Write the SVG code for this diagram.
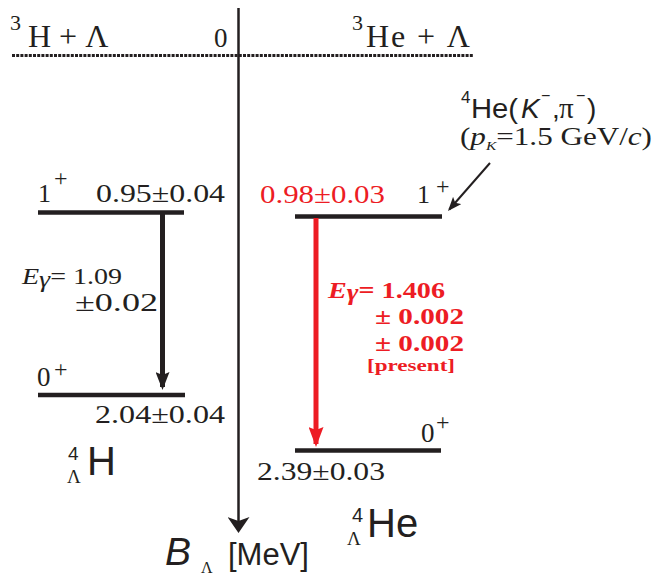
<svg xmlns="http://www.w3.org/2000/svg" width="657" height="576" viewBox="0 0 657 576">
<style>
.serif{font-family:"Liberation Serif","Times New Roman",serif;fill:#231f20}
.sans{font-family:"Liberation Sans",Arial,sans-serif;fill:#231f20}
.red{fill:#ed1c24}
.it{font-style:italic}
.b{font-weight:bold}
.lvl{stroke:#231f20;stroke-width:4.5;fill:none}
</style>
<defs>
<marker id="axHead" markerUnits="userSpaceOnUse" markerWidth="16" markerHeight="22" viewBox="0 0 16 22" refX="13" refY="11" orient="auto"><path d="M0,0 L16,11 L0,22 L4,11 Z" fill="#231f20"/></marker>
<marker id="blkHead" markerUnits="userSpaceOnUse" markerWidth="18" markerHeight="14" viewBox="0 0 18 14" refX="15" refY="7" orient="auto"><path d="M0,0 L18,7 L0,14 L3,7 Z" fill="#231f20"/></marker>
<marker id="redHead" markerUnits="userSpaceOnUse" markerWidth="20" markerHeight="15" viewBox="0 0 20 15" refX="17" refY="7.5" orient="auto"><path d="M0,0 L20,7.5 L0,15 L3,7.5 Z" fill="#ed1c24"/></marker>
<marker id="ptrHead" markerUnits="userSpaceOnUse" markerWidth="14" markerHeight="11" viewBox="0 0 14 11" refX="12" refY="5.5" orient="auto"><path d="M0,0 L14,5.5 L0,11 L3,5.5 Z" fill="#231f20"/></marker>
</defs>
<rect width="657" height="576" fill="#ffffff"/>

<g id="thresholds">
<line x1="12" y1="55.5" x2="473" y2="55.5" stroke="#231f20" stroke-width="3" stroke-dasharray="3 1.2"/>
<text class="serif" x="10" y="30" font-size="22">3</text>
<text class="serif" x="28" y="47" font-size="32">H + Λ</text>
<text class="serif" x="214" y="47" font-size="27">0</text>
<text class="serif" x="352" y="30" font-size="22">3</text>
<text class="serif" x="366" y="47" font-size="32" textLength="104">He + Λ</text>
</g>

<g id="reaction">
<text class="sans" x="461" y="103" font-size="17">4</text>
<text class="sans" x="471" y="118" font-size="28" textLength="47" lengthAdjust="spacingAndGlyphs">He(</text>
<text class="sans it" x="521" y="118" font-size="28">K</text>
<text class="sans" x="541" y="101" font-size="16">−</text>
<text class="sans" x="552" y="118" font-size="28">,</text>
<text class="serif" x="559" y="118" font-size="29">π</text>
<text class="sans" x="576" y="101" font-size="16">−</text>
<text class="sans" x="587" y="118" font-size="28">)</text>
<text class="serif" x="460" y="145" font-size="26" textLength="192" lengthAdjust="spacingAndGlyphs">(<tspan class="it">p</tspan><tspan class="it" font-size="13" dy="5">K</tspan><tspan dy="-5">=1.5 GeV/</tspan><tspan class="it">c</tspan>)</text>
</g>

<g id="H4-1plus">
<line class="lvl" x1="38" y1="212.5" x2="184" y2="212.5"/>
<text class="serif" x="38" y="202" font-size="26">1</text>
<text class="serif" x="54" y="186" font-size="24">+</text>
<text class="serif" x="96" y="202" font-size="25" textLength="129" lengthAdjust="spacingAndGlyphs">0.95±0.04</text>
</g>

<g id="H4-0plus">
<line class="lvl" x1="38" y1="395" x2="185" y2="395"/>
<text class="serif" x="37" y="386" font-size="27">0</text>
<text class="serif" x="54" y="377" font-size="24">+</text>
<text class="serif" x="95" y="423" font-size="25" textLength="130" lengthAdjust="spacingAndGlyphs">2.04±0.04</text>
</g>

<g id="H4-label">
<text class="sans" x="68" y="460" font-size="19">4</text>
<text class="serif" x="67" y="483" font-size="19">Λ</text>
<text class="sans" x="87" y="475" font-size="40">H</text>
</g>

<g id="H4-gamma">
<text class="serif" x="22" y="284" font-size="24" textLength="100" lengthAdjust="spacingAndGlyphs"><tspan class="it">E</tspan><tspan class="it" dy="3">γ</tspan><tspan dy="-3">= 1.09</tspan></text>
<text class="serif" x="75" y="311" font-size="25" textLength="83" lengthAdjust="spacingAndGlyphs">±0.02</text>
</g>

<g id="He4-1plus">
<line class="lvl" x1="295" y1="216.5" x2="442" y2="216.5"/>
<text class="serif red" x="260" y="203" font-size="25" textLength="125" lengthAdjust="spacingAndGlyphs">0.98±0.03</text>
<text class="serif" x="417" y="203" font-size="26">1</text>
<text class="serif" x="436" y="194" font-size="24">+</text>
</g>

<g id="He4-0plus">
<line class="lvl" x1="295" y1="450.5" x2="441" y2="450.5"/>
<text class="serif" x="421" y="442" font-size="27">0</text>
<text class="serif" x="436" y="430" font-size="24">+</text>
<text class="serif" x="257" y="480" font-size="25" textLength="128" lengthAdjust="spacingAndGlyphs">2.39±0.03</text>
</g>

<g id="He4-gamma">
<text class="serif red b" x="328" y="298" font-size="23" textLength="117" lengthAdjust="spacingAndGlyphs"><tspan class="it">E</tspan><tspan class="it" dy="2">γ</tspan><tspan dy="-2">= 1.406</tspan></text>
<text class="serif red b" x="375" y="324" font-size="23" textLength="89" lengthAdjust="spacingAndGlyphs">± 0.002</text>
<text class="serif red b" x="375" y="351" font-size="23" textLength="89" lengthAdjust="spacingAndGlyphs">± 0.002</text>
<text class="serif red b" x="367" y="371" font-size="17" textLength="88" lengthAdjust="spacingAndGlyphs">[present]</text>
</g>

<g id="He4-label">
<text class="sans" x="352" y="522" font-size="20">4</text>
<text class="serif" x="347" y="545" font-size="19">Λ</text>
<text class="sans" x="367" y="537" font-size="40">He</text>
</g>

<g id="axis-label">
<text class="sans it" x="165" y="565" font-size="39">B</text>
<text class="serif" x="201" y="573" font-size="16">Λ</text>
<text class="sans" x="228" y="565" font-size="31">[MeV]</text>
</g>

<g id="connectors">
<line x1="238.5" y1="8" x2="238.5" y2="530" stroke="#231f20" stroke-width="2.5" marker-end="url(#axHead)"/>
<line x1="162.5" y1="214" x2="162.5" y2="387" stroke="#231f20" stroke-width="5" marker-end="url(#blkHead)"/>
<line x1="316" y1="218" x2="316" y2="444" stroke="#ed1c24" stroke-width="5" marker-end="url(#redHead)"/>
<line x1="490" y1="163" x2="449.3" y2="209.5" stroke="#231f20" stroke-width="2" marker-end="url(#ptrHead)"/>
</g>
</svg>
